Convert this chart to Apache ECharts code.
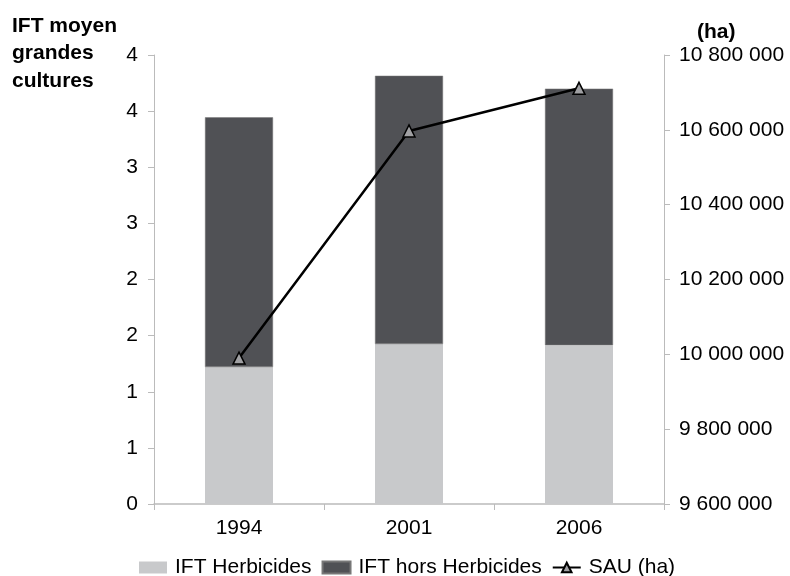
<!DOCTYPE html>
<html><head><meta charset="utf-8">
<script src="https://cdn.jsdelivr.net/npm/echarts@6/dist/echarts.min.js"></script>
<style>html,body{margin:0;padding:0;background:#fff}#c{width:790px;height:576px}</style>
</head><body><div id="c"></div>
<script>
const categories = ['1994', '2001', '2006'];
const iftHerbicides = [1.22, 1.425, 1.415];
const iftHorsHerbicides = [2.225, 2.39, 2.285];
const sau = [9990000, 10597000, 10711000];

const chart = echarts.init(document.getElementById('c'));
const F = '"Liberation Sans", Arial, sans-serif';
chart.setOption({
  animation: false,
  textStyle: { fontFamily: F },
  title: [
    { text: 'IFT moyen\ngrandes\ncultures', left: 7, top: 7,
      textStyle: { fontFamily: F, fontWeight: 'bold', fontSize: 21, color: '#000', lineHeight: 27.5 } },
    { text: '(ha)', left: 692, top: 17,
      textStyle: { fontFamily: F, fontWeight: 'bold', fontSize: 21, color: '#000' } }
  ],
  grid: { left: 154, right: 126, top: 55, bottom: 72, containLabel: false },
  legend: {
    top: 557, left: 139, itemGap: 10, itemWidth: 28, itemHeight: 12, padding: 0,
    textStyle: { fontFamily: F, fontSize: 21, color: '#000', padding: [0, 0, 0, 3] },
    data: [
      { name: 'IFT Herbicides', icon: 'rect' },
      { name: 'IFT hors Herbicides', icon: 'rect' },
      { name: 'SAU (ha)' }
    ]
  },
  xAxis: {
    type: 'category', data: categories, boundaryGap: true,
    axisLine: { lineStyle: { color: '#bbb', width: 1.5 } },
    axisTick: { show: true, length: 6, lineStyle: { color: '#bbb' } },
    axisLabel: { fontFamily: F, fontSize: 21, color: '#000', margin: 14 }
  },
  yAxis: [
    { type: 'value', min: 0, max: 4, interval: 0.5,
      axisLine: { show: true, lineStyle: { color: '#bbb' } },
      axisTick: { show: true, length: 6, lineStyle: { color: '#bbb' } },
      splitLine: { show: false },
      axisLabel: { fontFamily: F, fontSize: 21, color: '#000', margin: 16,
        formatter: v => String(Math.round(v)) } },
    { type: 'value', min: 9600000, max: 10800000, interval: 200000, position: 'right',
      axisLine: { show: true, lineStyle: { color: '#bbb' } },
      axisTick: { show: true, length: 6, lineStyle: { color: '#bbb' } },
      splitLine: { show: false },
      axisLabel: { fontFamily: F, fontSize: 21, color: '#000', margin: 15,
        formatter: v => String(v).replace(/\B(?=(\d{3})+(?!\d))/g, ' ') } }
  ],
  series: [
    { name: 'IFT Herbicides', type: 'bar', stack: 'ift', data: iftHerbicides, barWidth: '40%',
      itemStyle: { color: '#c8c9cb' } },
    { name: 'IFT hors Herbicides', type: 'bar', stack: 'ift', data: iftHorsHerbicides, barWidth: '40%',
      itemStyle: { color: '#505155', borderColor: '#777', borderWidth: 0.5 } },
    { name: 'SAU (ha)', type: 'line', yAxisIndex: 1, data: sau,
      symbol: 'triangle', symbolSize: 12,
      lineStyle: { color: '#000', width: 2.5 },
      itemStyle: { color: '#a0a0a3', borderColor: '#000', borderWidth: 1.5 } }
  ]
});
</script></body></html>
